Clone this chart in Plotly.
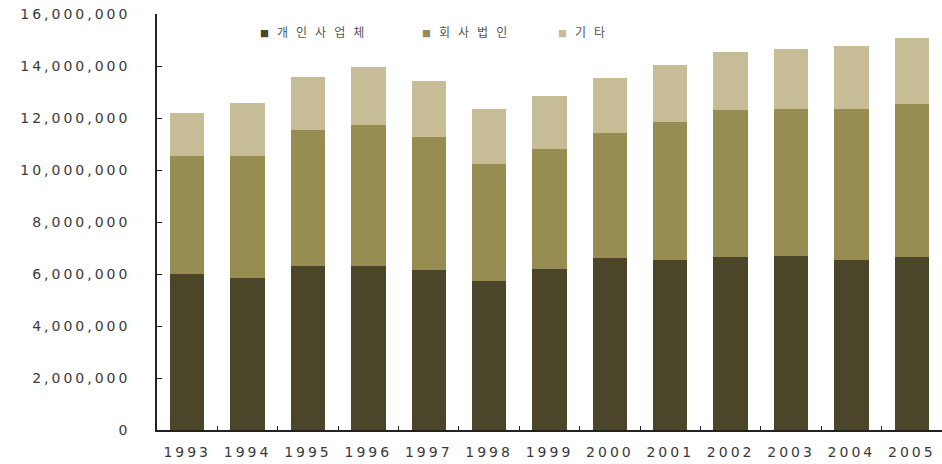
import plotly.graph_objects as go

# Years on the x axis
years = ["1993", "1994", "1995", "1996", "1997", "1998", "1999",
         "2000", "2001", "2002", "2003", "2004", "2005"]

# Series values (stacked)
sole_proprietor = [5990000, 5830000, 6300000, 6300000, 6140000, 5730000, 6190000,
                   6600000, 6550000, 6640000, 6700000, 6550000, 6640000]
corporation = [4560000, 4720000, 5240000, 5440000, 5130000, 4510000, 4620000,
               4840000, 5280000, 5660000, 5650000, 5800000, 5910000]
other = [1650000, 2010000, 2050000, 2210000, 2150000, 2110000, 2050000,
         2090000, 2210000, 2250000, 2300000, 2420000, 2530000]

series_names = ["개인사업체", "회사법인", "기타"]
y_ticks = [0, 2000000, 4000000, 6000000, 8000000, 10000000, 12000000, 14000000, 16000000]
y_tick_labels = ["0", "2,000,000", "4,000,000", "6,000,000", "8,000,000",
                 "10,000,000", "12,000,000", "14,000,000", "16,000,000"]

colors = ["#4b4529", "#978d53", "#c6bd97"]

fig = go.Figure()
for name, values, color in zip(series_names, [sole_proprietor, corporation, other], colors):
    fig.add_trace(go.Bar(
        x=years, y=values, name=name,
        marker=dict(color=color, line=dict(width=0)),
        showlegend=False,
    ))

tick_font = dict(family="DejaVu Sans", size=14, color="#3a3a3a")

fig.update_layout(
    width=942, height=464,
    barmode="stack",
    bargap=0.43,
    plot_bgcolor="white",
    paper_bgcolor="white",
    margin=dict(l=157, r=0, t=14, b=34),
    xaxis=dict(
        type="category",
        showline=True, linecolor="#222222", linewidth=1.5,
        ticks="inside", ticklen=4, tickcolor="#222222", tickwidth=1,
        tickson="boundaries",
        tickfont=tick_font,
        ticklabelstandoff=8,
        showgrid=False, zeroline=False,
    ),
    yaxis=dict(
        range=[0, 16000000],
        tickvals=y_ticks, ticktext=y_tick_labels,
        showline=True, linecolor="#222222", linewidth=1.5,
        ticks="inside", ticklen=5, tickcolor="#222222", tickwidth=1,
        tickfont=tick_font,
        ticklabelstandoff=22,
        showgrid=False, zeroline=False,
    ),
)

# Legend row drawn as annotations with small coloured squares
legend_x = [0.1287, 0.335, 0.508]
for name, color, lx in zip(series_names, colors, legend_x):
    fig.add_annotation(
        xref="paper", yref="paper", x=lx, y=0.957,
        xanchor="left", yanchor="middle", align="left",
        showarrow=False,
        text=f'<span style="color:{color};font-size:9px">■</span>{name}',
        font=dict(family="Noto Sans CJK KR", size=12, color="#555555"),
    )

spacing_js = """
var gd = document.getElementById('{plot_id}');
gd.querySelectorAll('g.xtick text, g.ytick text').forEach(function(t){ t.style.letterSpacing = '3px'; });
gd.querySelectorAll('g.annotation text').forEach(function(t){ t.style.letterSpacing = '8px'; });
"""

fig.write_html("out.html", config={"displayModeBar": False}, post_script=spacing_js)
